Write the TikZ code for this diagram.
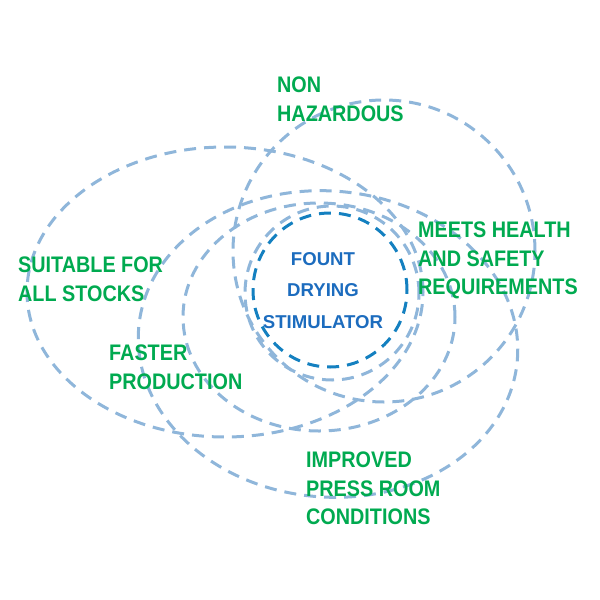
\documentclass[tikz,border=0pt]{standalone}
\usepackage{fontspec}
\newfontfamily\lblfont[FakeStretch=0.88]{Liberation Sans}
\newfontfamily\ctrfont{Liberation Sans}
\definecolor{ringblue}{RGB}{143,182,218}
\definecolor{coreblue}{RGB}{20,128,192}
\definecolor{textblue}{RGB}{28,108,190}
\definecolor{lblgreen}{RGB}{0,170,80}
\tikzset{
  ring/.style={draw=ringblue, line width=3pt, dash pattern=on 12pt off 8pt},
  core/.style={draw=coreblue, line width=3pt, dash pattern=on 12pt off 8pt},
  lbl/.style={text=lblgreen, font=\lblfont\bfseries\fontsize{22.5}{28.5}\selectfont, align=left, anchor=north west, inner sep=0pt},
  ctr/.style={text=textblue, font=\ctrfont\bfseries\fontsize{18.6}{31.5}\selectfont, align=center, anchor=north, inner sep=0pt}
}
\begin{document}
\begin{tikzpicture}[x=1pt,y=-1pt]
\useasboundingbox (0,0) rectangle (600,600);
% outer dashed shapes
\draw[ring] (225,292) ellipse [x radius=198pt, y radius=145pt];
\draw[ring] (384,251) circle [radius=151pt];
\draw[ring, rotate around={-5:(328,344)}] (328,344) ellipse [x radius=190pt, y radius=153pt];
\draw[ring] (319,317) ellipse [x radius=136pt, y radius=114pt];
\draw[ring] (332,293) circle [radius=87pt];
% core circle
\draw[core] (330,290) circle [radius=77pt];
% texts
\node[ctr] (core) at (323,252) {FOUNT\\DRYING\\STIMULATOR};
\node[lbl] (nonhaz) at (277,77) {NON\\HAZARDOUS};
\node[lbl] (meets) at (418,222) {MEETS HEALTH\\AND SAFETY\\REQUIREMENTS};
\node[lbl] (suit) at (18,257) {SUITABLE FOR\\ALL STOCKS};
\node[lbl] (faster) at (109,345) {FASTER\\PRODUCTION};
\node[lbl] (impr) at (306,452) {IMPROVED\\PRESS ROOM\\CONDITIONS};
\end{tikzpicture}
\end{document}
